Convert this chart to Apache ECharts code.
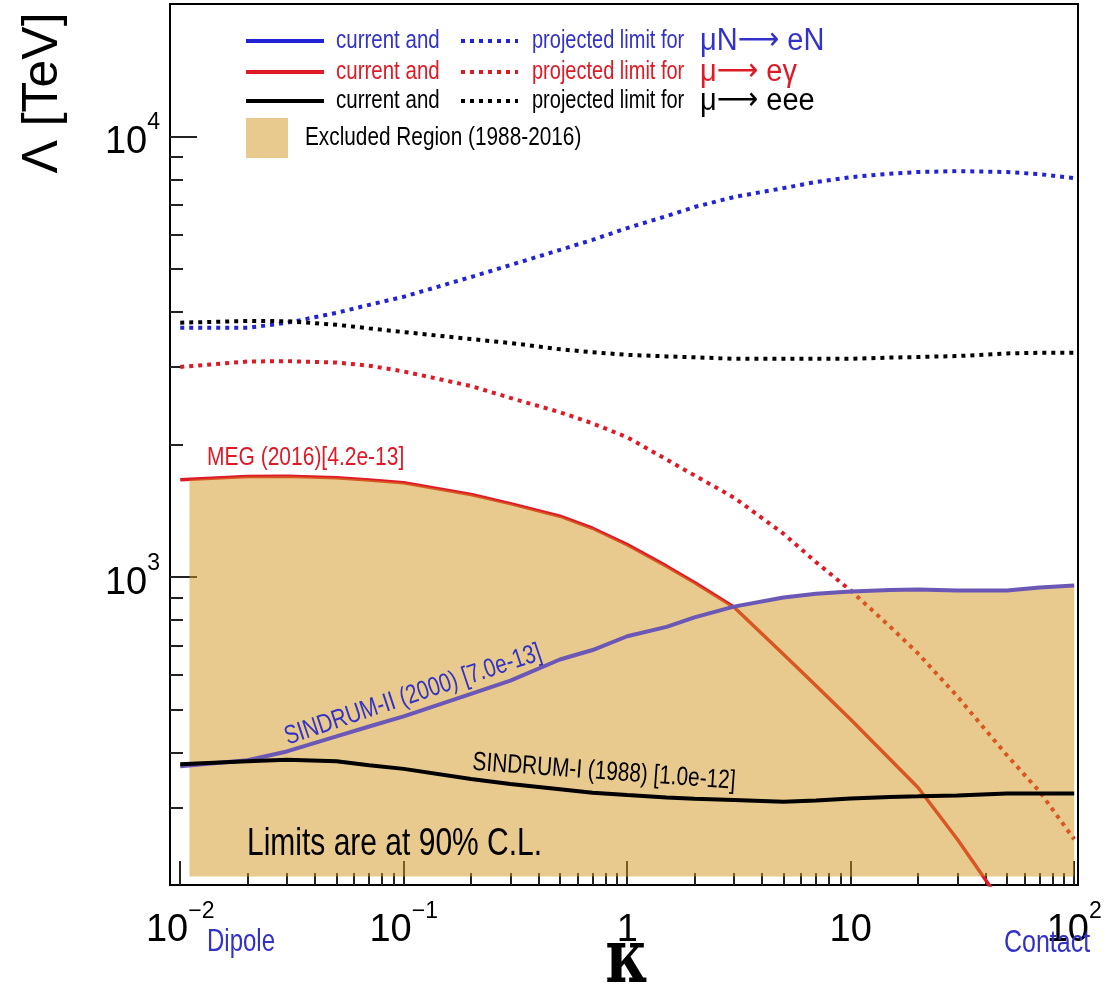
<!DOCTYPE html>
<html>
<head>
<meta charset="utf-8">
<script src="https://cdn.jsdelivr.net/npm/echarts@6/dist/echarts.min.js"></script>
<style>
  html, body { margin: 0; padding: 0; background: #fff; }
  #main { width: 1111px; height: 1003px; }
</style>
</head>
<body>
<div id="main"></div>
<script>
// kappa sample points shared by all curves
const KAPPA = [0.01, 0.02, 0.03, 0.05, 0.07, 0.1, 0.2, 0.3, 0.5, 0.7, 1, 1.5, 2, 3, 5, 7, 10, 15, 20, 30, 50, 70, 100];

// projected limits (dotted)
const MUN_EN_PROJ = [3684, 3680, 3777, 3980, 4150, 4330, 4800, 5110, 5530, 5830, 6200, 6600, 6920, 7290, 7640, 7890, 8090, 8240, 8310, 8350, 8310, 8220, 8050];
const MU_EEE_PROJ = [3780, 3816, 3810, 3740, 3670, 3600, 3470, 3400, 3290, 3240, 3195, 3170, 3155, 3130, 3130, 3130, 3130, 3150, 3160, 3175, 3220, 3230, 3230];
const MU_EG_PROJ = [3000, 3086, 3093, 3070, 3020, 2930, 2715, 2551, 2368, 2234, 2077, 1849, 1702, 1516, 1255, 1081, 932, 772, 671, 536, 394, 326, 254];

// current limits (solid)
const MEG_2016 = [1664, 1693, 1695, 1680, 1662, 1638, 1540, 1468, 1375, 1291, 1185, 1059, 972, 855, 668, 567, 475, 386, 333, 254, 175, null, null];
const SINDRUM_II = [372, 384, 402, 435, 458, 483, 543, 582, 650, 683, 734, 771, 810, 857, 899, 917, 927, 935, 937, 932, 932, 947, 957];
const SINDRUM_I = [376, 382, 385, 382, 374, 367, 348, 339, 330, 324, 320, 316, 314, 312, 309, 311, 314.5, 317, 318, 319.5, 322.5, 322.5, 322.5];

// excluded region
const EXCLUDED_KAPPA_FROM = 0.011;
const EXCLUDED_FLOOR = 209;

// axes
const X_RANGE = [0.009, 104];
const Y_RANGE = [200, 20000];
const X_TICKS = [0.01, 0.1, 1, 10, 100];
const Y_TICKS = [1000, 10000];

const BLUE = "#2323d6";
const RED = "#de1a26";
const TXT_BLUE = "#3232c8";
const FILL = "#d1931d";
const SANS = '"Liberation Sans", Arial, sans-serif';
const SERIF = '"DejaVu Serif", "Liberation Serif", serif';
const STRETCH = 1.27; // the original lettering is taller than Helvetica

const lg = Math.log10;
const toXY = (vals) =>
  KAPPA.map((k, i) => (vals[i] == null ? null : [lg(k), lg(vals[i])])).filter((p) => p);

function minorTicks(lo, hi) {
  let out = [];
  for (let e = lo; e < hi; e++) {
    for (let d = 2; d <= 9; d++) out.push(lg(d * Math.pow(10, e)));
  }
  return out;
}

// top edge of the excluded region = highest current limit
const envelope = KAPPA.map((k, i) =>
  Math.max(MEG_2016[i] == null ? 0 : MEG_2016[i], SINDRUM_II[i], SINDRUM_I[i])
);
const fillData = [[lg(EXCLUDED_KAPPA_FROM), lg(envelope[0])]].concat(
  KAPPA.slice(1).map((k, i) => [lg(k), lg(envelope[i + 1])])
);

const powLabel = (v) => {
  const e = Math.round(v);
  if (e === 0) return "{b|1}";
  if (e === 1) return "{b|10}";
  return "{b|10}{s|" + (e < 0 ? "\u2212" : "") + Math.abs(e) + "}";
};
const labelRich = {
  b: { fontSize: 38, fontFamily: SANS, color: "#000", padding: [12, 0, 0, 0] },
  s: { fontSize: 23, fontFamily: SANS, color: "#000", verticalAlign: "top" },
};

const tickStyle = { color: "#222", width: 2 };

const chart = echarts.init(document.getElementById("main"));

const option = {
  animation: false,
  backgroundColor: "#fff",
  grid: {
    left: 170,
    top: 4,
    right: 33,
    bottom: 118,
    outerBoundsMode: "none",
    show: true,
    borderColor: "#000",
    borderWidth: 2,
    backgroundColor: "#fff",
  },
  xAxis: [
    {
      type: "value",
      min: lg(X_RANGE[0]),
      max: lg(X_RANGE[1]),
      axisLine: { show: false, onZero: false },
      splitLine: { show: false },
      axisTick: { inside: true, length: 24, lineStyle: tickStyle, customValues: X_TICKS.map(lg) },
      axisLabel: {
        customValues: X_TICKS.map(lg),
        margin: 15,
        formatter: powLabel,
        rich: labelRich,
      },
    },
    {
      type: "value",
      position: "bottom",
      min: lg(X_RANGE[0]),
      max: lg(X_RANGE[1]),
      axisLine: { show: false, onZero: false },
      splitLine: { show: false },
      axisLabel: { show: false },
      axisTick: { inside: true, length: 12, lineStyle: tickStyle, customValues: minorTicks(-2, 2) },
    },
  ],
  yAxis: [
    {
      type: "value",
      position: "left",
      min: lg(Y_RANGE[0]),
      max: lg(Y_RANGE[1]),
      axisLine: { show: false, onZero: false },
      splitLine: { show: false },
      axisTick: { inside: true, length: 27, lineStyle: tickStyle, customValues: Y_TICKS.map(lg) },
      axisLabel: {
        customValues: Y_TICKS.map(lg),
        margin: 10,
        formatter: powLabel,
        rich: labelRich,
      },
    },
    {
      type: "value",
      position: "left",
      min: lg(Y_RANGE[0]),
      max: lg(Y_RANGE[1]),
      axisLine: { show: false, onZero: false },
      splitLine: { show: false },
      axisLabel: { show: false },
      axisTick: {
        inside: true,
        length: 13,
        lineStyle: tickStyle,
        customValues: minorTicks(2, 4).filter((v) => v > lg(Y_RANGE[0]) + 1e-6),
      },
    },
  ],
  series: [
    {
      name: "MEG (2016)",
      type: "line",
      data: toXY(MEG_2016),
      showSymbol: false,
      z: 2,
      lineStyle: { color: RED, width: 3.5 },
    },
    {
      name: "projected mu -> e gamma",
      type: "line",
      data: toXY(MU_EG_PROJ),
      showSymbol: false,
      z: 2,
      lineStyle: { color: RED, width: 4, type: [4, 5], cap: "butt" },
    },
    {
      name: "Excluded Region (1988-2016)",
      type: "line",
      data: fillData,
      showSymbol: false,
      z: 3,
      lineStyle: { width: 0 },
      areaStyle: { color: FILL, opacity: 0.5, origin: lg(EXCLUDED_FLOOR) },
    },
    {
      name: "SINDRUM-II (2000)",
      type: "line",
      data: toXY(SINDRUM_II),
      showSymbol: false,
      z: 4,
      lineStyle: { color: "#6b57b6", width: 4 },
    },
    {
      name: "SINDRUM-I (1988)",
      type: "line",
      data: toXY(SINDRUM_I),
      showSymbol: false,
      z: 4,
      lineStyle: { color: "#000", width: 4 },
    },
    {
      name: "projected mu N -> e N",
      type: "line",
      data: toXY(MUN_EN_PROJ),
      showSymbol: false,
      z: 4,
      lineStyle: { color: BLUE, width: 4, type: [4, 5], cap: "butt" },
    },
    {
      name: "projected mu -> eee",
      type: "line",
      data: toXY(MU_EEE_PROJ),
      showSymbol: false,
      z: 4,
      lineStyle: { color: "#000", width: 4, type: [4, 5], cap: "butt" },
    },
  ],
};

// legend rows and annotations
const rows = [
  { y: 41, color: BLUE, text: TXT_BLUE, proc: "{a|\u03bcN}{r|\u27f6}{a| eN}" },
  { y: 72, color: RED, text: RED, proc: "{a|\u03bc}{r|\u27f6}{a| e\u03b3}" },
  { y: 101, color: "#000", text: "#000", proc: "{a|\u03bc}{r|\u27f6}{a| eee}" },
];
function txt(x, y, s, size, color, align, extra) {
  return Object.assign(
    {
      type: "text",
      x: x,
      y: y,
      z: 10,
      scaleY: STRETCH,
      style: {
        text: s,
        fontSize: size,
        fontFamily: SANS,
        fill: color,
        textAlign: align || "left",
        textVerticalAlign: "middle",
        align: align || "left",
        verticalAlign: "middle",
      },
    },
    extra || {}
  );
}
const procRich = {
  a: { fontSize: 29, fontFamily: SANS },
  r: { fontSize: 29, fontFamily: '"DejaVu Sans", sans-serif' },
};
const graphics = [];
rows.forEach((r) => {
  graphics.push({ type: "line", z: 10, shape: { x1: 246, y1: r.y, x2: 324, y2: r.y }, style: { stroke: r.color, lineWidth: 4 } });
  graphics.push(txt(336, r.y, "current and", 20.5, r.text));
  graphics.push({ type: "line", z: 10, shape: { x1: 461, y1: r.y, x2: 518, y2: r.y }, style: { stroke: r.color, lineWidth: 4, lineDash: [4, 5] } });
  graphics.push(txt(532, r.y, "projected limit for", 20, r.text));
  const p = txt(700, r.y, r.proc, 29, r.text, "left", { scaleY: 1.1 });
  p.style.rich = procRich;
  graphics.push(p);
});
graphics.push({ type: "rect", z: 10, shape: { x: 246, y: 118, width: 42, height: 40 }, style: { fill: FILL, opacity: 0.5 } });
graphics.push(txt(305, 138, "Excluded Region (1988-2016)", 20.8, "#000"));
graphics.push(txt(207, 458, "MEG (2016)[4.2e-13]", 21, RED));
graphics.push(txt(413, 695, "SINDRUM-II (2000) [7.0e-13]", 20.8, TXT_BLUE, "center", { rotation: 0.323 }));
graphics.push(txt(604, 772, "SINDRUM-I (1988) [1.0e-12]", 20.8, "#000", "center", { rotation: -0.072 }));
graphics.push(txt(247, 845, "Limits are at 90% C.L.", 30, "#000"));
graphics.push(txt(241, 943, "Dipole", 24, TXT_BLUE, "center"));
graphics.push(txt(1047, 943, "Contact", 25, TXT_BLUE, "center"));
graphics.push(txt(43, 93, "\u039b [TeV]", 50, "#000", "center", { rotation: Math.PI / 2, scaleY: 1 }));
// axis title kappa
const kap = txt(627, 962, "\u03ba", 58, "#000", "center", { scaleY: 1.3 });
kap.style.fontFamily = SERIF;
kap.style.fontWeight = "bold";
graphics.push(kap);
option.graphic = { elements: graphics };

chart.setOption(option);
</script>
</body>
</html>
